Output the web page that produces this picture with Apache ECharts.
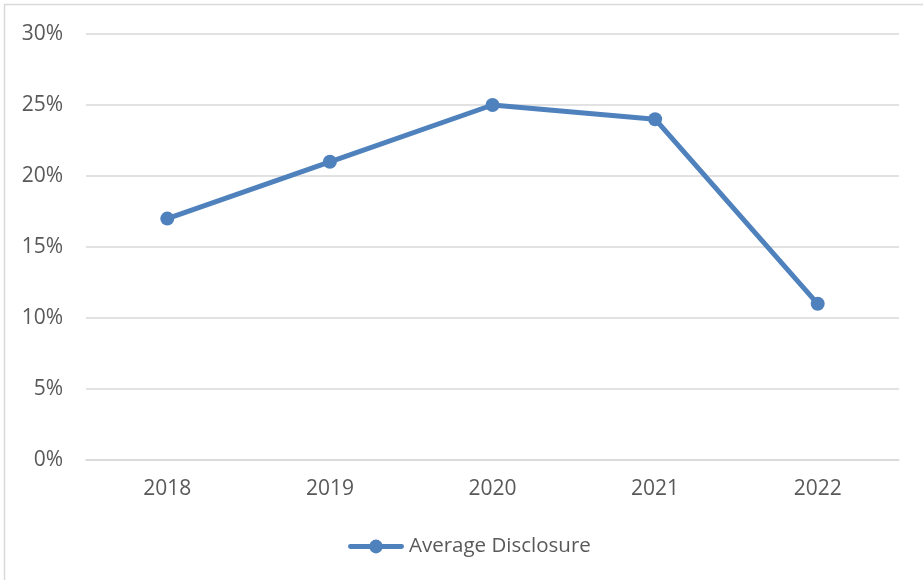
<!DOCTYPE html>
<html><head><meta charset="utf-8">
<script src="https://cdn.jsdelivr.net/npm/echarts@6/dist/echarts.min.js"></script>
<style>html,body{margin:0;padding:0;background:#fff;}#c{width:923px;height:580px;}</style>
</head><body><div id="c"></div>
<script>
const categories = ['2018', '2019', '2020', '2021', '2022'];
const averageDisclosure = [17, 21, 25, 24, 11];
const yTicks = [0, 5, 10, 15, 20, 25, 30];

const chart = echarts.init(document.getElementById('c'), null, {renderer: 'canvas'});
const font = '"Open Sans", "Liberation Sans", sans-serif';
const blue = '#4f81bd';
chart.setOption({
  animation: false,
  graphic: [{
    type: 'rect', shape: {x: 4.5, y: 4.5, width: 940, height: 600},
    style: {fill: 'none', stroke: '#d9d9d9', lineWidth: 1.5}, silent: true
  }],
  grid: {left: 86, right: 24, top: 34, bottom: 120, containLabel: false},
  legend: {
    top: 531, left: 343,
    itemWidth: 56, itemHeight: 14, itemGap: 4,
    icon: 'path://M2,4.5 L54,4.5 A2.5,2.5 0 0,1 54,9.5 L2,9.5 A2.5,2.5 0 0,1 2,4.5 Z M21,7 A7,7 0 1,1 35,7 A7,7 0 1,1 21,7 Z M0,0 L0.01,0 L0.01,0.01 Z M56,14 L55.99,14 L55.99,13.99 Z',
    itemStyle: {color: blue},
    textStyle: {fontFamily: font, fontSize: 20.5, color: '#595959'},
    data: ['Average Disclosure']
  },
  xAxis: {
    type: 'category', data: categories, boundaryGap: true,
    axisLine: {show: true, lineStyle: {color: '#d9d9d9', width: 1.5}},
    axisTick: {show: false},
    axisLabel: {fontFamily: font, fontSize: 21, color: '#595959', margin: 19}
  },
  yAxis: {
    type: 'value', min: 0, max: 30, interval: 5,
    axisLine: {show: false}, axisTick: {show: false},
    splitLine: {lineStyle: {color: '#d9d9d9', width: 1.5}},
    axisLabel: {fontFamily: font, fontSize: 21, color: '#595959', margin: 23,
      formatter: v => yTicks.includes(v) ? v + '%' : ''}
  },
  series: [{
    name: 'Average Disclosure', type: 'line', data: averageDisclosure,
    symbol: 'circle', symbolSize: 14,
    lineStyle: {color: blue, width: 5},
    itemStyle: {color: blue}
  }]
});
</script></body></html>
